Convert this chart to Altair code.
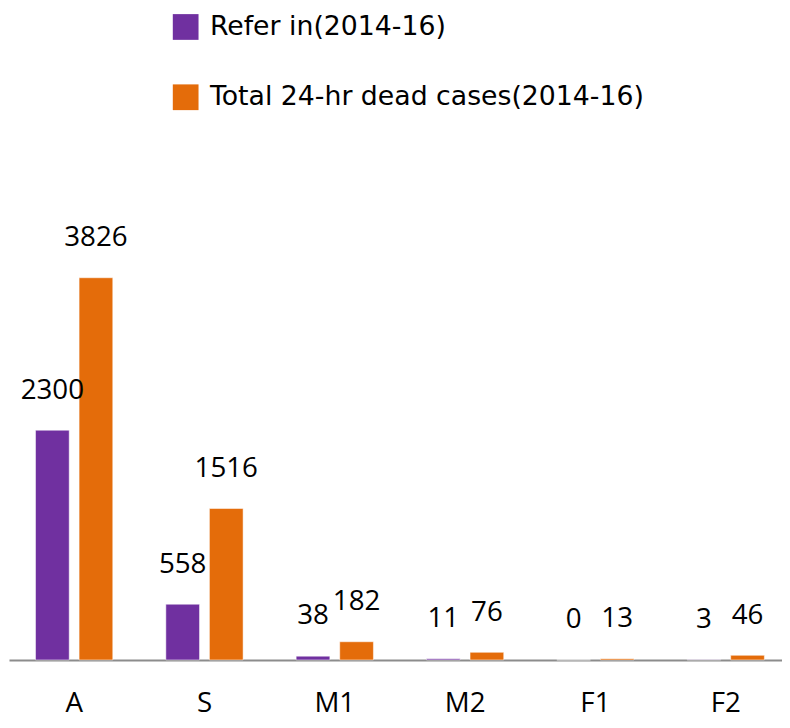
import altair as alt
import pandas as pd

categories = ["A", "S", "M1", "M2", "F1", "F2"]
refer_in = [2300, 558, 38, 11, 0, 3]
dead_24hr = [3826, 1516, 182, 76, 13, 46]
series = ["Refer in(2014-16)", "Total 24-hr dead cases(2014-16)"]
colors = ["#7030A0", "#E46C0A"]

rows = []
for c, r, d in zip(categories, refer_in, dead_24hr):
    rows.append({"cat": c, "series": series[0], "value": r})
    rows.append({"cat": c, "series": series[1], "value": d})
df = pd.DataFrame(rows)

FONT = "Open Sans"

x = alt.X(
    "cat:N",
    sort=categories,
    scale=alt.Scale(paddingInner=0, paddingOuter=0, rangeMin=0, rangeMax=790),
    axis=alt.Axis(
        title=None, labelAngle=0, ticks=False, domainColor="#8c8c8c",
        domainWidth=2, labelFontSize=28, labelFont=FONT, labelColor="black",
        labelPadding=30, grid=False,
    ),
)
xo = alt.XOffset(
    "series:N", sort=series,
    scale=alt.Scale(paddingInner=0.227, paddingOuter=0.609),
)
y = alt.Y("value:Q", scale=alt.Scale(domain=[0, 6490], nice=False, zero=True), axis=None)
color = alt.Color(
    "series:N", sort=series,
    scale=alt.Scale(domain=series, range=colors),
    legend=alt.Legend(
        title=None, orient="none", legendX=165, legendY=2, direction="vertical",
        symbolType="square", symbolSize=676, symbolStrokeWidth=0,
        labelFontSize=27, labelFont="DejaVu Sans", labelColor="black", labelOffset=11,
        rowPadding=43, labelLimit=600,
    ),
)

bars = alt.Chart(df).mark_bar(stroke="white", strokeWidth=1, strokeOpacity=0.5).encode(
    x=x, xOffset=xo, y=y, color=color
)
labels = alt.Chart(df).mark_text(
    dy=-40, fontSize=28, font=FONT, baseline="middle", color="black"
).encode(x=x, xOffset=xo, y=y, text="value:Q")

chart = (
    alt.layer(bars, labels)
    .properties(
        width=781, height=655,
        autosize=alt.AutoSizeParams(type="none"),
        padding={"left": 1, "top": 0, "right": 0, "bottom": 57},
    )
    .configure_view(stroke=None)
)

chart.save("out.html", embed_options={"renderer": "svg", "actions": False})
